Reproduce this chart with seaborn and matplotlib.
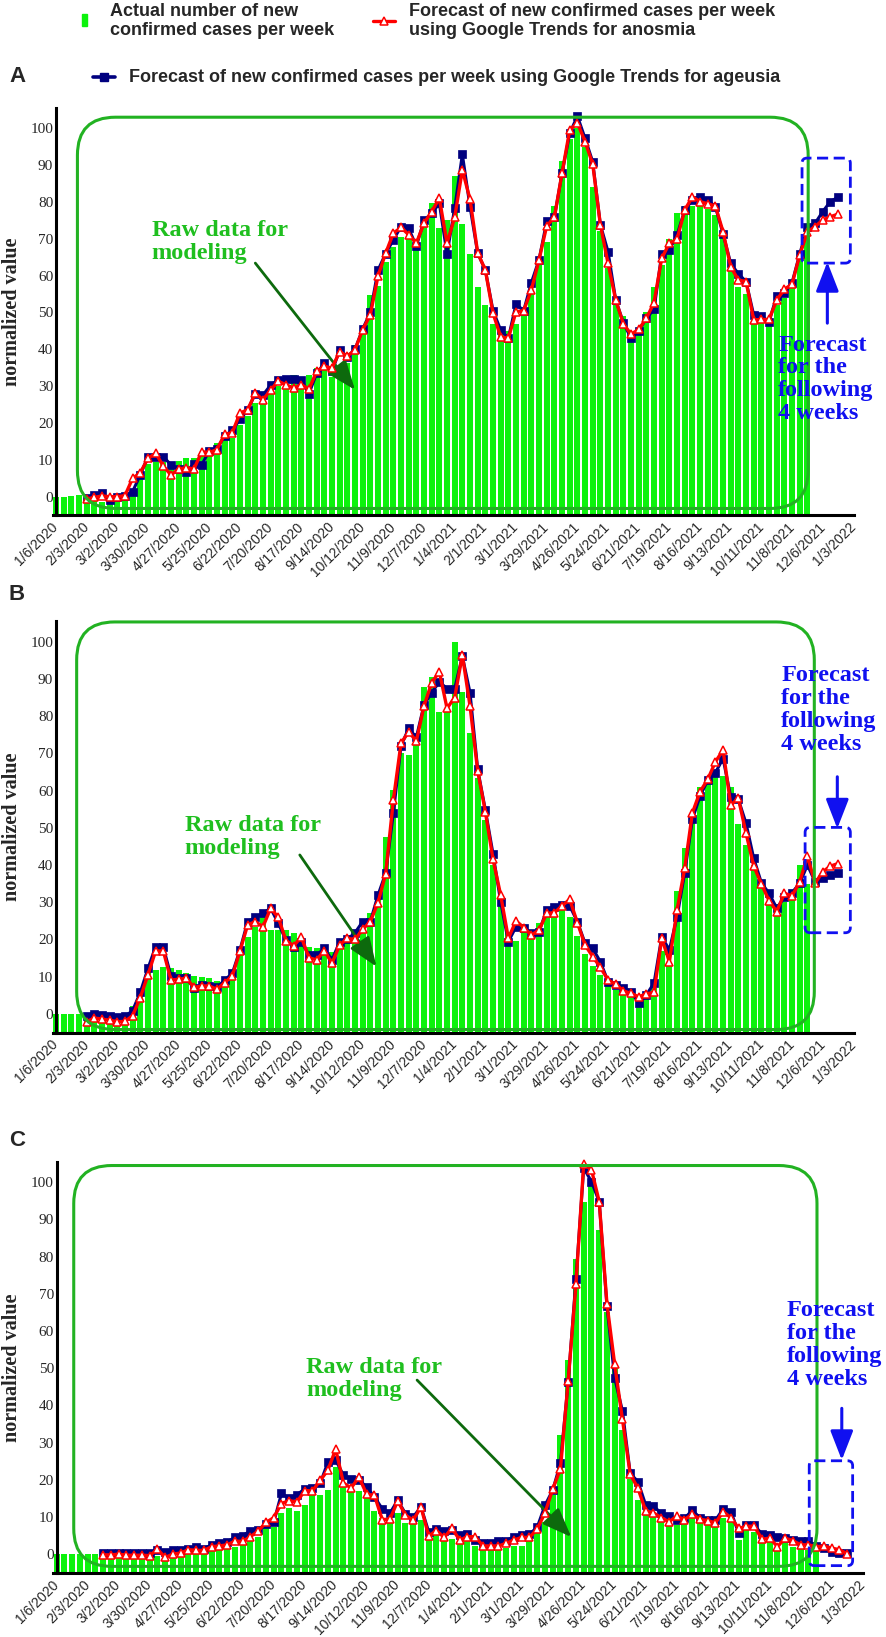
import matplotlib.pyplot as plt
import seaborn as sns
import numpy as np
import pandas as pd
from matplotlib.patches import FancyBboxPatch, Rectangle
from matplotlib.lines import Line2D

# weekly data, week 0 = 1/6/2020; actual counts for weeks 0..98, forecasts up to week 102
tick_labels = ["1/6/2020", "2/3/2020", "3/2/2020", "3/30/2020", "4/27/2020", "5/25/2020",
               "6/22/2020", "7/20/2020", "8/17/2020", "9/14/2020", "10/12/2020", "11/9/2020",
               "12/7/2020", "1/4/2021", "2/1/2021", "3/1/2021", "3/29/2021", "4/26/2021",
               "5/24/2021", "6/21/2021", "7/19/2021", "8/16/2021", "9/13/2021", "10/11/2021",
               "11/8/2021", "12/6/2021", "1/3/2022"]

A_actual = [0, 0, 0.2, 0.4, -1, -1, -1.5, -1, -0.5, -0.5,
            2, 6, 9, 9.5, 9.5, 9.5, 9.7, 10.5, 10.4, 11,
            13, 14.5, 16, 16, 19.5, 22, 25.4, 26, 28, 30,
            30, 33, 31, 33, 35, 35.4, 32.6, 34.4, 36.3, 41.2,
            44.4, 54.8, 57.1, 63.8, 67.9, 70.6, 71.5, 69, 74, 79.7,
            73, 75, 87, 74, 66, 57, 52, 47, 45, 45,
            47, 49, 56, 63, 69, 79, 91, 97, 100, 95,
            84, 72, 62, 52.5, 49, 44, 45, 50, 57, 63,
            70, 77, 79, 79, 79, 78, 76.5, 70.5, 62.5, 57,
            55, 48, 47.5, 46.5, 52, 54, 58, 65, 72]
A_anosmia = [-0.6, -0.2, 0.2, 0, 0, 0.3, 5, 6.5, 10.4, 11.8,
             8.3, 5.9, 7.5, 7.9, 7.5, 12.2, 12, 12.8, 16.9, 17.4,
             22.7, 23.6, 28.1, 26.3, 29, 31.3, 30.4, 29.5, 30.4, 29.2,
             34, 35.4, 34.9, 39.4, 38.1, 39.9, 45.3, 49.4, 59.9, 66.1,
             71.5, 73.1, 71.1, 68.8, 74.2, 77.4, 81, 68.8, 75.8, 88.7,
             80.7, 66.2, 61.5, 49.8, 43.4, 43, 50.2, 50.5, 56.1, 64.3,
             73.5, 75.8, 87.8, 99.5, 101.5, 96.4, 90.3, 73.8, 63.3, 53.4,
             46.9, 44.1, 45.4, 48.4, 52.7, 64.7, 68.8, 69.9, 77.8, 81.4,
             80.1, 79.5, 78.9, 71.9, 62.4, 58.8, 58.4, 48, 48.1, 48.1,
             53.4, 56.3, 57.7, 65.6, 71.9, 73.3, 75.1, 76, 76.7]
A_ageusia = [-0.3, 0.5, 1, -1, 0, 0.3, 1.4, 5.9, 10.9, 10.9,
             10.9, 8.6, 7.5, 6.8, 9, 8.6, 12.5, 13, 16.5, 18,
             21, 23.5, 28, 27.6, 30.3, 31.7, 31.9, 31.9, 31.7, 28,
             33.5, 36.2, 34, 39.8, 38, 40, 45.5, 50, 61.5, 66,
             69.7, 73.3, 72.8, 68, 75, 76.9, 79.6, 65.9, 78.3, 92.9,
             78.7, 66.1, 61.5, 50.5, 45.2, 43, 52.3, 50.5, 58.1, 64.3,
             74.7, 75.8, 87.8, 98.6, 103.3, 97.3, 90.9, 73.8, 66.5, 53.4,
             47.2, 43, 45.1, 48.4, 50.9, 65.9, 67, 71, 77.8, 80.5,
             81.4, 80.5, 78.7, 71.3, 63.3, 60.5, 58.4, 49.3, 49, 47.5,
             54.5, 55.2, 58.1, 65.9, 73.1, 74.2, 77.4, 80.1, 81.3]

B_actual = [0, 0, 0, 0, -1, -1.5, -1.5, -2, -2, -1.5,
            2, 6.5, 13, 11.8, 12.7, 12.2, 11.8, 10.9, 10.2, 10,
            9.6, 8.9, 9, 11.8, 15.8, 20.7, 23.4, 26.1, 22.5, 22.5,
            22.5, 21.6, 19, 18, 17.6, 17.2, 16.7, 18, 19.8, 20.3,
            22.5, 27, 31.5, 47.6, 60.1, 70, 69.5, 73.6, 87.9, 90.6,
            81.2, 81.2, 100, 86.5, 75.5, 63.5, 52, 40, 30, 22,
            19.5, 22.5, 21.5, 24.5, 27, 27.5, 28, 26, 21, 16,
            13, 10.5, 7.4, 6.5, 5.7, 5.1, 2.3, 4.6, 7, 17,
            14, 33, 44.5, 53.5, 61, 62.5, 65.5, 64, 61, 51,
            45.5, 40, 35, 30, 28, 30, 31, 40, 35]
B_anosmia = [-2.1, -1.1, -1.4, -1.7, -2.1, -2, -0.5, 4.4, 10.5, 16.9,
             16.9, 9.1, 9.3, 9.6, 7.1, 7.5, 7.5, 6.6, 8.4, 10.2,
             16.9, 23.9, 24.8, 23.4, 28.4, 25.9, 19.7, 18.3, 20.6, 15.1,
             14.5, 17, 13.6, 18.5, 20.3, 20, 22.7, 24.8, 29.9, 37.6,
             57.4, 72.7, 75.8, 73.3, 82.7, 89, 91.9, 82.1, 85, 96.4,
             82.7, 65.3, 54.3, 41.5, 31.9, 20.3, 25, 23.2, 21.2, 22.5,
             27, 27.2, 29, 30.8, 24.5, 18.5, 15.4, 12.5, 9.1, 8,
             6.2, 5.5, 4.6, 5.4, 5.8, 20.3, 14, 27.9, 39.1, 54,
             59.7, 63, 67.7, 70.9, 56.1, 57.9, 48.5, 39.7, 34.9, 30.4,
             27.5, 32.4, 31.7, 35.5, 42.4, 35.1, 38.2, 39.7, 40.4]
B_ageusia = [-0.5, 0, -0.2, -0.5, -0.9, -0.7, 0.9, 5.8, 12.2, 18.1,
             17.9, 10.2, 9.6, 9.6, 6.9, 7.7, 7.5, 7.1, 9.1, 10.9,
             17.2, 24.8, 25.9, 27, 28.4, 24.3, 19.8, 18.1, 19.4, 15.8,
             15.8, 17.6, 14.5, 19.4, 20, 21.8, 24.8, 24.8, 31.9, 37.8,
             53.9, 72, 76.7, 74.3, 83, 86.3, 89.2, 87.4, 87.4, 96.1,
             86.3, 65.7, 54.8, 43, 30.1, 19.4, 23.4, 23, 21.6, 22.1,
             27.9, 28.8, 29.2, 29, 24.8, 19, 17.6, 14, 8.7, 7.8,
             7, 6, 2.8, 5.1, 8.3, 20.7, 17.2, 26.1, 37.9, 52.3,
             58.5, 62.8, 64.8, 68.6, 58.3, 57.6, 51.2, 41.8, 35.2, 32.4,
             28.4, 31.3, 32.6, 35.1, 40, 35.5, 36.4, 37.3, 37.8]

C_actual = [0, 0, 0, 0, 0, 0, -0.8, -0.8, -0.9, -0.9,
            -0.8, -0.9, -0.8, -0.5, -0.8, -0.6, -0.6, 0.3, 0.1, 0,
            0.8, 1.2, 1.3, 2, 2.4, 3.6, 4.5, 7.2, 7.2, 11,
            12.3, 11.5, 13.1, 15.8, 16, 17.3, 23.5, 18.2, 17.1, 17.1,
            16, 11.6, 9.8, 8.7, 11, 8.3, 8.2, 9.1, 4.3, 5.1,
            4, 4, 3.4, 3.4, 2.2, 1.6, 1.6, 1.6, 1.6, 2.2,
            2.2, 3.4, 6, 8.7, 15.8, 32, 52.2, 79.3, 94.8, 100,
            87.2, 65, 50.4, 33.3, 20.3, 14.5, 11.8, 10.5, 9.6, 8.3,
            7.8, 8.3, 9.8, 9.1, 8, 7.2, 9.6, 10.5, 3.8, 6.5,
            6, 2.9, 3.4, 1.6, 2.9, 2, 1.6, 1.2, 1.2]
C_anosmia = [-0.2, -0.2, 0, -0.3, -0.3, -0.3, -0.4, 1.3, -0.9, 0,
             0.3, 1.2, 1, 1, 2, 2.2, 2.5, 3.5, 3.4, 4.7,
             6.2, 8.5, 9.8, 13.6, 14.4, 14, 17.1, 17, 19.8, 22.6,
             28.2, 19.1, 17.8, 20.7, 16.1, 15.8, 9.3, 9.4, 14.3, 10.5,
             9.1, 12.7, 4.9, 6.3, 4.5, 6.9, 3.8, 4.7, 4.7, 2.2,
             2.2, 2.2, 2.9, 3.8, 4.5, 4.5, 6.7, 11.1, 17.4, 23,
             46.6, 72.6, 105, 103.4, 94.8, 67.3, 51, 36.2, 21.5, 17.7,
             11.6, 11.1, 9.8, 8.7, 10.2, 9.3, 10.7, 9.4, 9, 8.4,
             11.4, 9.8, 6.9, 7.5, 7.5, 4, 4.3, 2, 4.3, 3.6,
             2.5, 2.5, 2, 2.2, 1.6, 1.2, 0.1]
C_ageusia = [0.3, 0.3, 0.3, 0.3, 0.3, 0.3, 0.3, 1.2, 0.7, 1,
             1, 1.5, 2, 1.5, 2.5, 3, 3.3, 4.5, 5, 6.2,
             6.5, 8, 8.5, 16.3, 15, 16, 17.5, 17.8, 19, 24.8,
             25.3, 21.2, 20.3, 20, 18, 15.4, 12.2, 11, 14.5, 10.9,
             10, 12.7, 6, 6.7, 6.3, 6.5, 5.1, 5.3, 3.8, 3.1,
             3.1, 3.4, 3.6, 4.7, 5.1, 5.4, 7.2, 13.1, 17.2, 24.4,
             46.4, 73.9, 103.8, 100.2, 94.8, 66.6, 47.3, 38.5, 21.7, 19.5,
             13.2, 12.9, 11, 10.2, 9.1, 9.6, 11.8, 9.8, 9.1, 9.1,
             12.2, 11.4, 5.6, 7.8, 7.8, 5.4, 5.1, 4.7, 4.3, 3.8,
             3.4, 3.4, 2.2, 1.6, 0.7, 0.3, 0.3]

W, H = 886, 1637
GREEN = "#0cf20c"
BOX_GREEN = "#22b222"
TEXT_GREEN = "#1fbf1f"
ARROW_GREEN = "#0d6a0d"
NAVY = "#00007f"
RED = "#ff0000"
BLUE = "#1010f0"
SERIF = ["Liberation Serif", "DejaVu Serif"]
Y_BOTTOM = -5

sns.set_style("white")
plt.rcParams["font.family"] = ["Liberation Sans", "DejaVu Sans"]


def fx(px):
    return px / W


def fy(py):
    return 1 - py / H


def px_per_unit(ax):
    pos = ax.get_position()
    x0, x1 = ax.get_xlim()
    y0, y1 = ax.get_ylim()
    return pos.width * W / (x1 - x0), pos.height * H / (y1 - y0)


def rounded_box(ax, x0, x1, y0, y1, r_px, **kw):
    pxx, pxy = px_per_unit(ax)
    patch = FancyBboxPatch((x0, y0), x1 - x0, y1 - y0,
                           boxstyle=f"round,pad=0,rounding_size={r_px / pxx}",
                           mutation_aspect=pxx / pxy, fill=False,
                           transform=ax.transData, clip_on=False, **kw)
    ax.add_patch(patch)


def draw_panel(ax, actual, anosmia, ageusia, f_start, cfg):
    bars = pd.DataFrame({"week": np.arange(len(actual)), "value": actual})
    sns.barplot(data=bars, x="week", y=bars["value"] - Y_BOTTOM, orient="x",
                native_scale=True, bottom=Y_BOTTOM, width=0.78, color=GREEN,
                saturation=1, errorbar=None, linewidth=0, ax=ax, zorder=1)
    fweeks = np.arange(f_start, f_start + len(anosmia))
    sns.lineplot(x=fweeks, y=ageusia, ax=ax, color=NAVY, lw=2.2, marker="s",
                 markersize=6.2, markeredgecolor=NAVY, markeredgewidth=0.5,
                 zorder=3, clip_on=False, legend=False)
    sns.lineplot(x=fweeks, y=anosmia, ax=ax, color=RED, lw=2.4, marker="^",
                 markersize=5.5, markerfacecolor="white", markeredgecolor=RED,
                 markeredgewidth=1.1, zorder=4, clip_on=False, legend=False)

    ax.set_xlim(-0.45, 104.05)
    ax.set_ylim(Y_BOTTOM, 105.5)
    ax.set_axisbelow(True)
    sns.despine(ax=ax)
    ax.spines["left"].set_position(("data", 0))
    for s in ("left", "bottom"):
        ax.spines[s].set_linewidth(2.2)
        ax.spines[s].set_color("black")
    ax.set_yticks(range(0, 101, 10))
    ax.set_xticks(range(0, 105, 4))
    ax.set_xticklabels(tick_labels, rotation=45, ha="right", va="center",
                       rotation_mode="anchor", fontsize=10)
    ax.tick_params(axis="both", direction="in", length=7.5, width=2, color="black")
    ax.tick_params(axis="y", pad=2, labelsize=11, labelfontfamily="Liberation Serif")
    ax.tick_params(axis="x", pad=7)
    ax.set_xlabel("")
    ax.set_ylabel("normalized value", fontsize=14.5, fontweight="bold", family=SERIF)
    ax.yaxis.label.set_va("center")
    ax.yaxis.set_label_coords(cfg["ylab_x"], 0.5)

    rounded_box(ax, *cfg["box"], r_px=38, edgecolor=BOX_GREEN, lw=2.2, zorder=5)
    rounded_box(ax, *cfg["dash"], r_px=5, edgecolor=BLUE, lw=2,
                linestyle=(0, (4, 2)), zorder=5)

    (tx, ty), (hx, hy) = cfg["blue_arrow"]
    ax.annotate("", xy=(hx, hy), xytext=(tx, ty), annotation_clip=False,
                arrowprops=dict(arrowstyle="-|>,head_length=0.9,head_width=0.35",
                                color=BLUE, lw=2.2, shrinkA=0, shrinkB=0,
                                mutation_scale=20))
    ax.text(*cfg["fc_text"], "Forecast\nfor the\nfollowing\n4 weeks", color=BLUE,
            fontsize=17.5, fontweight="bold", family=SERIF, va="top", ha="left",
            linespacing=1.12, zorder=6)

    ax.text(*cfg["raw_text"], "Raw data for\nmodeling", color=TEXT_GREEN,
            fontsize=17.5, fontweight="bold", family=SERIF, va="top", ha="left",
            linespacing=1.12, zorder=6)
    (tx, ty), (hx, hy) = cfg["raw_arrow"]
    ax.annotate("", xy=(hx, hy), xytext=(tx, ty), annotation_clip=False,
                arrowprops=dict(arrowstyle="-|>,head_length=0.9,head_width=0.35",
                                color=ARROW_GREEN, lw=2, shrinkA=0, shrinkB=0,
                                mutation_scale=20))


panels = [
    ("A", A_actual, A_anosmia, A_ageusia, 4,
     dict(rect=(52.5, 853.8, 108, 515.1), letter=(17, 77),
          box=(2.8, 98.1, -3.2, 103.0), dash=(97.3, 103.6, 63.4, 91.9),
          blue_arrow=((100.6, 47.1), (100.6, 63.7)), fc_text=(94.2, 44.0),
          raw_text=(12.5, 75.1), raw_arrow=((26.0, 63.4), (39.0, 29.0)))),
    ("B", B_actual, B_anosmia, B_ageusia, 4,
     dict(rect=(52.5, 853.8, 621.2, 1032.5), letter=(17, 595),
          box=(2.7, 98.9, -4.2, 105.3), dash=(97.7, 103.6, 21.8, 50.1),
          blue_arrow=((101.9, 63.7), (101.9, 49.8)), fc_text=(94.6, 93.7),
          raw_text=(16.8, 53.4), raw_arrow=((31.8, 42.7), (41.8, 12.7)))),
    ("C", C_actual, C_anosmia, C_ageusia, 6,
     dict(rect=(53.2, 863.1, 1161.8, 1572.7), letter=(17, 1140),
          box=(2.2, 98.1, -3.3, 104.5), dash=(97.1, 102.7, -3.1, 25.1),
          blue_arrow=((101.3, 39.2), (101.3, 25.3)), fc_text=(94.2, 68.3),
          raw_text=(32.2, 53.1), raw_arrow=((46.5, 46.8), (66.4, 4.6)))),
]

fig = plt.figure(figsize=(W / 100, H / 100), dpi=100)
for letter, actual, anosmia, ageusia, f_start, cfg in panels:
    l, r, t, b = cfg["rect"]
    ax = fig.add_axes([fx(l), fy(b), (r - l) / W, (b - t) / H])
    cfg["ylab_x"] = (12 - l) / (r - l)
    draw_panel(ax, actual, anosmia, ageusia, f_start, cfg)
    lx, ly = cfg["letter"]
    fig.text(fx(lx), fy(ly), letter, fontsize=16, fontweight="bold",
             ha="center", va="center")

# legend at the top
fig.add_artist(Rectangle((fx(82), fy(26)), 5 / W, 12 / H, color=GREEN,
                         transform=fig.transFigure))
fig.text(fx(110), fy(21), "Actual number of new\nconfirmed cases per week",
         fontsize=13, fontweight="bold", ha="left", va="center")
fig.add_artist(Line2D([fx(373), fx(395)], [fy(21), fy(21)], color=RED, lw=2.4,
                      transform=fig.transFigure))
fig.add_artist(Line2D([fx(384)], [fy(21)], color=RED, marker="^", markersize=5.5,
                      markerfacecolor="white", markeredgewidth=1.1,
                      transform=fig.transFigure))
fig.text(fx(409), fy(21), "Forecast of new confirmed cases per week\nusing Google Trends for anosmia",
         fontsize=13, fontweight="bold", ha="left", va="center")
fig.add_artist(Line2D([fx(93), fx(115)], [fy(77), fy(77)], color=NAVY, lw=2.6,
                      transform=fig.transFigure))
fig.add_artist(Line2D([fx(104)], [fy(77)], color=NAVY, marker="s", markersize=6.2,
                      transform=fig.transFigure))
fig.text(fx(129), fy(77), "Forecast of new confirmed cases per week using Google Trends for ageusia",
         fontsize=13, fontweight="bold", ha="left", va="center")

fig.savefig("out.png", dpi=100)
